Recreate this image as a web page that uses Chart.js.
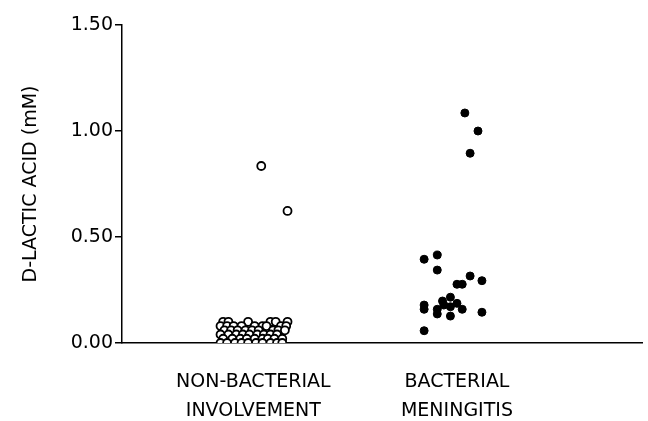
<!DOCTYPE html>
<html>
<head>
<meta charset="utf-8">
<script src="https://cdn.jsdelivr.net/npm/chart.js@4.4.1/dist/chart.umd.min.js"></script>
<style>
  body { margin: 0; background: #fff; }
  #wrap { width: 648px; height: 421px; }
</style>
</head>
<body>
<div id="wrap"><canvas id="chart"></canvas></div>
<script>
// group labels and where they sit on the x axis
const groupLabels = [['NON-BACTERIAL', 'INVOLVEMENT'], ['BACTERIAL', 'MENINGITIS']];
const groupPos = [1.0, 2.55];
const yTicks = [0, 0.5, 1.0, 1.5];

// non-bacterial involvement (open circles): jitter position, value (mM)
const nonBactX = [
  1.06, 1.26,
  0.77, 0.81, 0.96, 1.13, 1.17, 1.26,
  0.75, 0.80, 0.85, 0.91, 1.01, 1.07, 1.10, 1.21, 1.25,
  0.78, 0.83, 0.88, 0.94, 0.99, 1.04, 1.15, 1.19, 1.24,
  0.75, 0.81, 0.87, 0.92, 0.97, 1.03, 1.08, 1.13, 1.18,
  0.77, 0.84, 0.90, 0.95, 1.01, 1.07, 1.11, 1.16, 1.22,
  0.75, 0.80, 0.86, 0.91, 0.96, 1.02, 1.07, 1.13, 1.18, 1.22
];
const nonBactY = [
  0.835, 0.623,
  0.10, 0.10, 0.10, 0.10, 0.10, 0.10,
  0.08, 0.08, 0.08, 0.08, 0.08, 0.08, 0.08, 0.08, 0.08,
  0.06, 0.06, 0.06, 0.06, 0.06, 0.06, 0.06, 0.06, 0.06,
  0.04, 0.04, 0.04, 0.04, 0.04, 0.04, 0.04, 0.04, 0.04,
  0.02, 0.02, 0.02, 0.02, 0.02, 0.02, 0.02, 0.02, 0.02,
  0.00, 0.00, 0.00, 0.00, 0.00, 0.00, 0.00, 0.00, 0.00, 0.00
];

// bacterial meningitis (filled circles)
const bactX = [
  2.61, 2.71, 2.65,
  2.30, 2.40, 2.40, 2.65, 2.74, 2.55, 2.59,
  2.50, 2.44, 2.55, 2.45, 2.50, 2.30, 2.30, 2.40, 2.40,
  2.59, 2.50, 2.74, 2.30
];
const bactY = [
  1.085, 1.00, 0.895,
  0.395, 0.415, 0.344, 0.316, 0.294, 0.277, 0.277,
  0.216, 0.198, 0.187, 0.179, 0.171, 0.179, 0.159, 0.159, 0.137,
  0.159, 0.127, 0.145, 0.058
];

const toPoints = (xs, ys) => xs.map((x, i) => ({ x: x, y: ys[i] }));
const font = { family: '"DejaVu Sans", sans-serif', size: 19 };

new Chart(document.getElementById('chart'), {
  type: 'scatter',
  data: {
    datasets: [{
      label: 'Non-bacterial involvement',
      data: toPoints(nonBactX, nonBactY),
      pointRadius: 4,
      pointBorderWidth: 1.8,
      borderColor: '#000',
      backgroundColor: '#fff'
    }, {
      label: 'Bacterial meningitis',
      data: toPoints(bactX, bactY),
      pointRadius: 4,
      pointBorderWidth: 1,
      borderColor: '#000',
      backgroundColor: '#000'
    }]
  },
  options: {
    responsive: true,
    maintainAspectRatio: false,
    animation: false,
    layout: { padding: { top: 25, right: 0, bottom: 0, left: 0 } },
    plugins: {
      legend: { display: false },
      tooltip: { enabled: false }
    },
    scales: {
      x: {
        type: 'linear',
        min: 0,
        max: 3.96,
        afterBuildTicks: axis => { axis.ticks = groupPos.map(v => ({ value: v })); },
        afterFit: axis => { axis.height = 78; },
        grid: { display: false, drawTicks: false },
        border: { display: true, color: '#000', width: 1.5 },
        ticks: {
          color: '#000',
          font: Object.assign({ lineHeight: 1.55 }, font),
          padding: 24,
          maxRotation: 0,
          callback: (v, i) => groupLabels[i]
        }
      },
      y: {
        min: 0,
        max: 1.5,
        afterBuildTicks: axis => { axis.ticks = yTicks.map(v => ({ value: v })); },
        afterFit: axis => { axis.width = 122; },
        grid: { drawOnChartArea: false, drawTicks: true, tickLength: 7, color: '#000', lineWidth: 1.5 },
        border: { display: true, color: '#000', width: 1.5 },
        ticks: {
          color: '#000',
          font: font,
          padding: 2,
          callback: v => v.toFixed(2)
        },
        title: {
          display: true,
          text: 'D-LACTIC ACID (mM)',
          color: '#000',
          font: font,
          padding: { top: 20, bottom: 0 }
        }
      }
    }
  }
});
</script>
</body>
</html>
